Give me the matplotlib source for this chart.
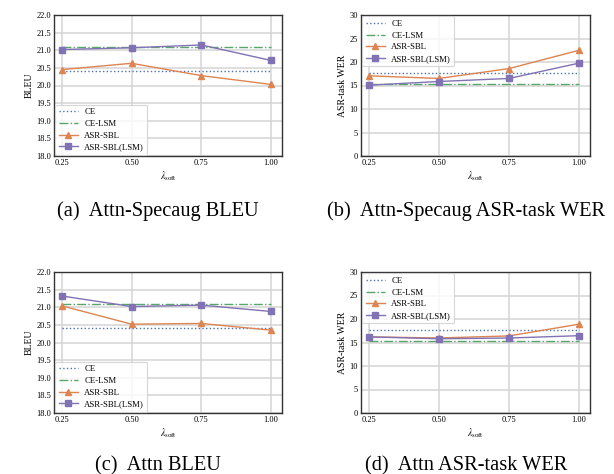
import matplotlib
matplotlib.use("Agg")
import matplotlib.pyplot as plt

plt.rcParams['font.family'] = ['Liberation Serif', 'DejaVu Serif']
plt.rcParams['mathtext.fontset'] = 'stix'

lambdas = [0.25, 0.50, 0.75, 1.00]
xtick_labels = ["0.25", "0.50", "0.75", "1.00"]

# (a) Attn-Specaug BLEU
a_ce = 20.41
a_ce_lsm = 21.09
a_sbl = [20.45, 20.63, 20.28, 20.03]
a_sbl_lsm = [21.02, 21.07, 21.15, 20.71]

# (b) Attn-Specaug ASR-task WER
b_ce = 17.75
b_ce_lsm = 15.35
b_sbl = [17.06, 16.5, 18.6, 22.5]
b_sbl_lsm = [15.07, 15.85, 16.5, 19.76]

# (c) Attn BLEU
c_ce = 20.41
c_ce_lsm = 21.09
c_sbl = [21.04, 20.52, 20.54, 20.35]
c_sbl_lsm = [21.32, 21.02, 21.06, 20.88]

# (d) Attn ASR-task WER
d_ce = 17.7
d_ce_lsm = 15.4
d_sbl = [16.2, 15.96, 16.4, 18.9]
d_sbl_lsm = [16.2, 15.8, 15.95, 16.45]

captions = ["(a)  Attn-Specaug BLEU", "(b)  Attn-Specaug ASR-task WER",
            "(c)  Attn BLEU", "(d)  Attn ASR-task WER"]

W, H = 614, 474
fig = plt.figure(figsize=(W / 100, H / 100), dpi=100)

blue = "#4c72b0"
green = "#55a868"
orange = "#dd8452"
purple = "#8172b3"


def panel(rect, ce, ce_lsm, sbl, sbl_lsm, bleu):
    l, t, r, b = rect
    ax = fig.add_axes([l / W, 1 - b / H, (r - l) / W, (b - t) / H])
    ax.plot(lambdas, [ce] * 4, ls=":", color=blue, lw=1, label="CE")
    ax.plot(lambdas, [ce_lsm] * 4, ls="-.", color=green, lw=1, label="CE-LSM")
    ax.plot(lambdas, sbl, "-^", color=orange, lw=1, ms=4.5, label="ASR-SBL")
    ax.plot(lambdas, sbl_lsm, "-s", color=purple, lw=1, ms=4.5, label="ASR-SBL(LSM)")
    ax.set_xlim(0.222, 1.039)
    ax.set_xticks(lambdas)
    ax.set_xticklabels(xtick_labels)
    if bleu:
        ax.set_ylim(18.0, 22.0)
        ax.set_yticks([18.0 + 0.5 * i for i in range(9)])
        ax.set_yticklabels(["%.1f" % (18.0 + 0.5 * i) for i in range(9)])
        ax.set_ylabel("BLEU", fontsize=7, labelpad=2)
        loc = "lower left"
    else:
        ax.set_ylim(0, 30)
        ax.set_yticks(range(0, 31, 5))
        ax.set_ylabel("ASR-task WER", fontsize=7, labelpad=2)
        loc = "upper left"
    ax.set_xlabel(r"$\lambda_{\rm soft}$", fontsize=7, labelpad=2)
    ax.tick_params(labelsize=6, length=0, pad=2)
    ax.grid(True, color="#d4d4d4", lw=1.1)
    ax.set_axisbelow(True)
    for s in ax.spines.values():
        s.set_color("#333333")
        s.set_linewidth(1.0)
    leg = ax.legend(loc=loc, fontsize=6.3, frameon=True, fancybox=True,
                    handlelength=2.2, handletextpad=0.7, borderaxespad=0.15,
                    labelspacing=0.4, borderpad=0.4)
    leg.get_frame().set_edgecolor("#cccccc")
    leg.get_frame().set_linewidth(0.8)
    return ax


panel((54, 15, 282, 156), a_ce, a_ce_lsm, a_sbl, a_sbl_lsm, True)
panel((361, 15, 590, 156), b_ce, b_ce_lsm, b_sbl, b_sbl_lsm, False)
panel((54, 272, 282, 413), c_ce, c_ce_lsm, c_sbl, c_sbl_lsm, True)
panel((361, 272, 590, 413), d_ce, d_ce_lsm, d_sbl, d_sbl_lsm, False)

fig.text(158 / W, 1 - 216 / H, captions[0], ha="center", va="baseline", fontsize=14.7)
fig.text(466 / W, 1 - 216 / H, captions[1], ha="center", va="baseline", fontsize=14.7)
fig.text(158 / W, 1 - 470 / H, captions[2], ha="center", va="baseline", fontsize=14.7)
fig.text(466 / W, 1 - 470 / H, captions[3], ha="center", va="baseline", fontsize=14.7)

fig.savefig("out.png", dpi=100)
